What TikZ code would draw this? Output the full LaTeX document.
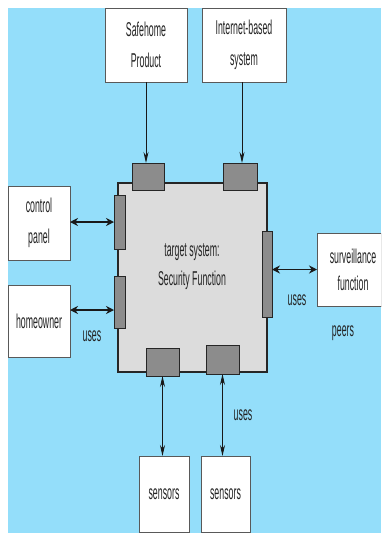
\documentclass[tikz,border=0pt]{standalone}
\usepackage{fontspec}
\setmainfont{Liberation Sans}[FakeStretch=0.44]
\usetikzlibrary{arrows.meta,shadows}
\definecolor{bg}{RGB}{148,222,250}
\definecolor{maingray}{RGB}{220,220,220}
\definecolor{portgray}{RGB}{140,140,140}
\definecolor{txt}{RGB}{35,35,35}
\newcommand\diafont{\fontsize{20}{31}\selectfont}
\begin{document}
\begin{tikzpicture}[x=1pt,y=-1pt,
  shad/.style={drop shadow={shadow xshift=1.3pt,shadow yshift=-1.3pt,opacity=1,fill=black!80}},
  box/.style={draw=black!65, line width=0.8pt, fill=white, shad, inner sep=0pt, outer sep=0pt,
    align=center, text=txt, font=\diafont},
  port/.style={draw=black!85, line width=0.8pt, fill=portgray, shad, inner sep=0pt, outer sep=0pt},
  mainbox/.style={draw=black!85, line width=1.4pt, fill=maingray, shad, inner sep=0pt, outer sep=0pt,
    align=center, text=txt, font=\diafont},
  lab/.style={text=txt, font=\diafont, inner sep=0pt},
  arr/.style={line width=0.9pt, draw=black!90, -{Stealth[length=11pt,width=5pt]}},
  darrv/.style={line width=0.9pt, draw=black!90, {Stealth[length=11pt,width=5pt]}-{Stealth[length=11pt,width=5pt]}},
  darrh/.style={line width=1.2pt, draw=black!90, {Stealth[length=8pt,width=8pt]}-{Stealth[length=8pt,width=8pt]}}
]
\useasboundingbox (0,0) rectangle (381,533);
\clip (0,0) rectangle (381,533);
\fill[white] (0,0) rectangle (381,533);
\fill[bg] (8,8) rectangle (381,533);

% outer boxes
\node[box, minimum width=82pt, minimum height=74pt] (safe) at (146,45) {Safehome\\Product};
\node[box, minimum width=84pt, minimum height=74pt] (inet) at (244,45) {Internet-based\\system};
\node[box, minimum width=62pt, minimum height=74pt] (cp) at (39,223) {control\\panel};
\node[box, minimum width=62pt, minimum height=72pt] (home) at (39,321) {homeowner};
\node[box, minimum width=72pt, minimum height=73pt, font=\fontsize{20}{27}\selectfont] (surv) at (353,269.5) {surveillance\\function};
\node[box, minimum width=50pt, minimum height=76pt] (s1) at (164,494) {sensors};
\node[box, minimum width=49pt, minimum height=76pt] (s2) at (225.5,494) {sensors};

% main box
\node[mainbox, minimum width=149pt, minimum height=189pt] (main) at (192.5,277.5) {};
\node[lab, align=center, font=\fontsize{20}{29}\selectfont] (mtxt) at (192,267) {target system:\\Security Function};

% ports
\node[port, minimum width=32pt, minimum height=27pt] (pt1) at (148,176.5) {};
\node[port, minimum width=34pt, minimum height=27pt] (pt2) at (240,176.5) {};
\node[port, minimum width=11pt, minimum height=54pt] (pl1) at (119.5,222) {};
\node[port, minimum width=11pt, minimum height=52pt] (pl2) at (119.5,302) {};
\node[port, minimum width=10pt, minimum height=86pt] (pr) at (267,274) {};
\node[port, minimum width=33pt, minimum height=28pt] (pb1) at (162.5,362) {};
\node[port, minimum width=33pt, minimum height=29pt] (pb2) at (222.5,359.5) {};

% connectors
\draw[arr] (safe.south) -- (safe.south |- pt1.north);
\draw[arr] ([xshift=-2pt]inet.south) -- ([xshift=-2pt]inet.south |- pt2.north);
\draw[darrh] (cp.east |- pl1.west) -- (pl1.west);
\draw[darrh] ([yshift=-8pt]pl2.west -| home.east) -- ([yshift=-8pt]pl2.west);
\draw[darrh] (pr.east |- surv.west) -- (surv.west);
\draw[darrv] (pb1.south) -- (pb1.south |- s1.north);
\draw[darrv] (pb2.south) -- (pb2.south |- s2.north);

% labels
\node[lab] (u1) at (92,336) {uses};
\node[lab] (u2) at (297,300) {uses};
\node[lab] (peers) at (343,333) {peers};
\node[lab] (u3) at (243,415) {uses};
\end{tikzpicture}
\end{document}
